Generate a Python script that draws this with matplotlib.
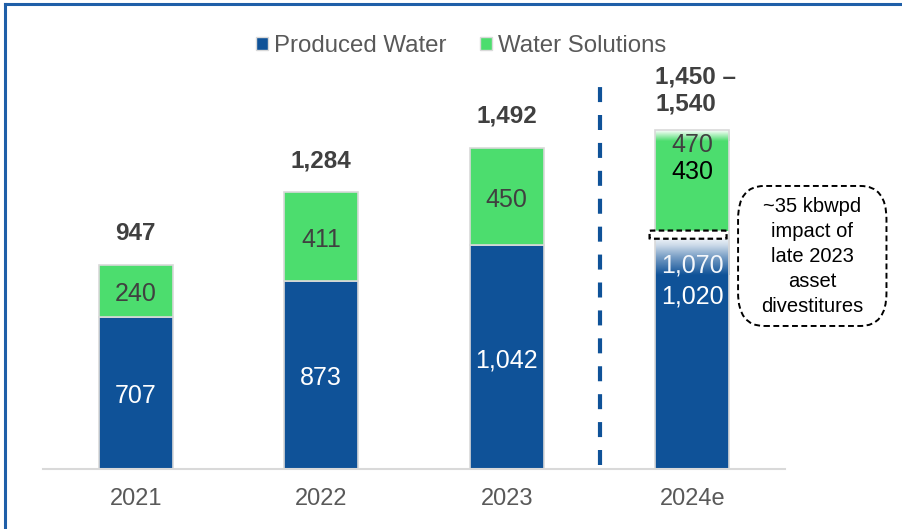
import numpy as np
import matplotlib
matplotlib.use("Agg")
import matplotlib.pyplot as plt
from matplotlib.colors import LinearSegmentedColormap, to_rgb
from matplotlib.patches import FancyBboxPatch
from matplotlib.lines import Line2D

plt.rcParams['font.family'] = ['Liberation Sans', 'DejaVu Sans']

# Data (kbwpd)
years = ["2021", "2022", "2023", "2024e"]
produced = [707, 873, 1042, 1070]
solutions = [240, 411, 450, 470]
totals = ["947", "1,284", "1,492", "1,450 –\n1,540"]
produced_labels = ["707", "873", "1,042", "1,020"]
solutions_labels = ["240", "411", "450", "430"]
forecast_low_produced = 1020
forecast_low_solutions = 430
divestiture_gap = 35

BLUE = "#0f5298"
GREEN = "#4cdd6e"
EDGE = "#d9d9d9"
GREY_TXT = "#404040"
LBL = 18

fig = plt.figure(figsize=(9.02, 5.29), dpi=100)
ax = fig.add_axes([43 / 902, 60 / 529, (785 - 43) / 902, 469 / 529])

x = np.arange(len(years))
w = 0.40
ymax = 469 / 0.2154


def label(xv, yv, s, color, **kw):
    ax.annotate(s, (xv, yv), xytext=(0, -2.5), textcoords="offset points",
                ha="center", va="center", color=color, fontsize=LBL, zorder=4, **kw)


# Actual years: solid stacked bars
for i in range(3):
    ax.bar(x[i], produced[i], w, color=BLUE, edgecolor=EDGE, linewidth=1.2, zorder=2)
    ax.bar(x[i], solutions[i], w, bottom=produced[i], color=GREEN,
           edgecolor=EDGE, linewidth=1.2, zorder=2)
    label(x[i], produced[i] / 2, produced_labels[i], "white")
    label(x[i], produced[i] + solutions[i] / 2, solutions_labels[i], GREY_TXT)
    ax.annotate(totals[i], (x[i], produced[i] + solutions[i]), xytext=(0, 22.5),
                textcoords="offset points", ha="center", va="center",
                fontsize=17.5, fontweight="bold", color=GREY_TXT, zorder=4)

# Forecast year: range shown as a fade between low and high estimates
i = 3
xl, xr = x[i] - w / 2, x[i] + w / 2
blue_rgb = np.array(to_rgb(BLUE))
green_rgb = np.array(to_rgb(GREEN))
white = np.array([1.0, 1.0, 1.0])
grad = np.linspace(0, 1, 256).reshape(-1, 1)

# solid blue below the fade
fade_start = forecast_low_produced - 120
ax.bar(x[i], fade_start, w, color=BLUE, edgecolor="none", zorder=2)
fade_b = LinearSegmentedColormap.from_list(
    "fb", [(0.0, blue_rgb), (0.5, 0.55 * blue_rgb + 0.45 * white),
           (0.8, 0.22 * blue_rgb + 0.78 * white), (1.0, 0.06 * blue_rgb + 0.94 * white)])
ax.imshow(grad, cmap=fade_b, extent=[xl, xr, fade_start, produced[i]],
          origin="lower", aspect="auto", zorder=2, interpolation="bicubic")

# green block above the divestiture gap
g0 = produced[i] + divestiture_gap
ax.bar(x[i], forecast_low_solutions, w, bottom=g0, color=GREEN, edgecolor="none", zorder=2)
fade_g = LinearSegmentedColormap.from_list("fg", [green_rgb, 0.5 * green_rgb + 0.5 * white, white])
ax.imshow(grad, cmap=fade_g, extent=[xl, xr, g0 + forecast_low_solutions - 10, g0 + solutions[i]],
          origin="lower", aspect="auto", zorder=2, interpolation="bicubic")
# light outline of the whole forecast bar
ax.add_patch(plt.Rectangle((xl, 0), w, g0 + solutions[i], fill=False, edgecolor=EDGE,
                           linewidth=1.2, zorder=3))

# dashed marker for the divestiture impact
ax.add_patch(FancyBboxPatch((xl - 0.03, produced[i] - 1), w + 0.015, divestiture_gap + 3,
                            boxstyle="round,pad=0,rounding_size=0.025",
                            mutation_aspect=60, facecolor="white", edgecolor="black",
                            linestyle=(0, (2.5, 1.5)), linewidth=1.6, zorder=3))

label(x[i], produced[i] - 110, "1,070", "#f4f7fb")
label(x[i], forecast_low_produced - 205, produced_labels[i], "white")
label(x[i], g0 + solutions[i] - 57, "470", GREY_TXT)
label(x[i], g0 + forecast_low_solutions - 138, solutions_labels[i], "black")
ax.annotate(totals[i], (xl, g0 + solutions[i]), xytext=(0, 10),
            textcoords="offset points", ha="left", va="bottom", linespacing=1.25,
            fontsize=17.5, fontweight="bold", color=GREY_TXT, zorder=4)

# callout box
ax.add_patch(FancyBboxPatch((3.247, 664), 0.80, 650,
                            boxstyle="round,pad=0,rounding_size=0.14", mutation_aspect=1100,
                            facecolor="white", edgecolor="black",
                            linestyle=(0, (3, 1.8)), linewidth=1.4, zorder=3, clip_on=False))
ax.text(3.647, 985, "~35 kbwpd\nimpact of\nlate 2023\nasset\ndivestitures", ha="center",
        va="center", fontsize=14.5, linespacing=1.4, color="black", zorder=4, clip_on=False)

# separator between actuals and estimate
ax.plot([2.5, 2.5], [18, 1792], color=BLUE, linewidth=3, linestyle=(0, (3.6, 3.1)), zorder=1)

ax.set_xlim(-0.5, 3.5)
ax.set_ylim(0, ymax)
ax.set_xticks(x)
ax.set_xticklabels(years, fontsize=17, color="#595959")
ax.tick_params(axis="x", length=0, pad=14)
ax.set_yticks([])
for s in ["top", "right", "left"]:
    ax.spines[s].set_visible(False)
ax.spines["bottom"].set_color(EDGE)
ax.spines["bottom"].set_linewidth(1.5)
ax.patch.set_alpha(0)

handles = [plt.Rectangle((0, 0), 1, 1, facecolor=BLUE, edgecolor=EDGE),
           plt.Rectangle((0, 0), 1, 1, facecolor=GREEN, edgecolor=EDGE)]
fig.legend(handles, ["Produced Water", "Water Solutions"], loc="center",
           bbox_to_anchor=(0.511, 0.913), ncol=2, frameon=False, fontsize=17.3,
           labelcolor="#595959", handlelength=0.5, handleheight=0.5,
           handletextpad=0.25, columnspacing=1.4)

# frame lines along the top and left edges
fig.add_artist(Line2D([5 / 902, 1], [1 - 4 / 529, 1 - 4 / 529], color="#1f5fa8",
                      linewidth=2.2, transform=fig.transFigure))
fig.add_artist(Line2D([5 / 902, 5 / 902], [0, 1 - 4 / 529], color="#1f5fa8",
                      linewidth=2.2, transform=fig.transFigure))

fig.savefig("out.png", dpi=100)
